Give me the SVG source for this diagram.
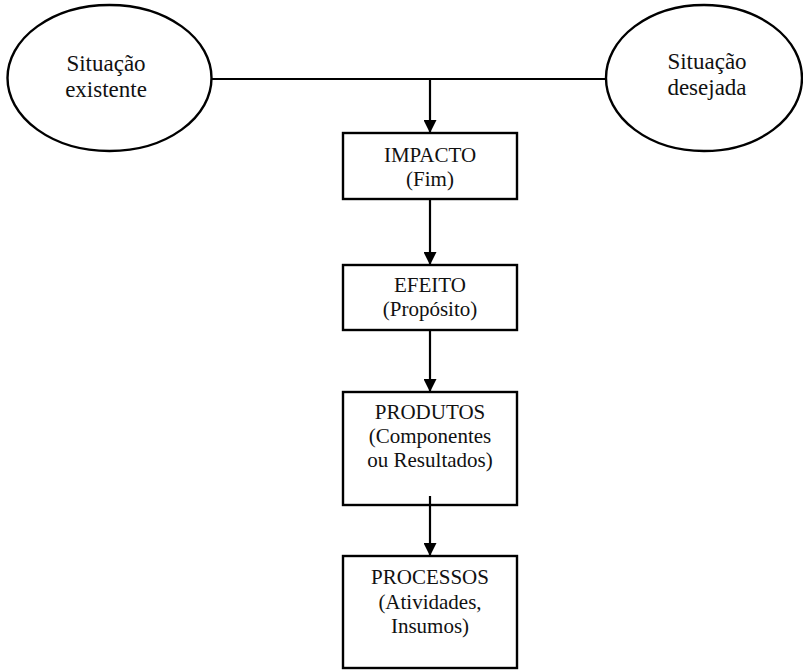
<svg xmlns="http://www.w3.org/2000/svg" width="803" height="670" viewBox="0 0 803 670">
  <style>
    .shape { fill: #ffffff; stroke: #000000; stroke-width: 2.4; }
    .link { fill: none; stroke: #000000; stroke-width: 2.2; }
    .lbl { fill: #111111; text-anchor: middle; }
    .ell { font-size: 23px; }
    .box { font-size: 21px; }
  </style>
  <defs>
    <marker id="arrow" viewBox="0 0 13 13" refX="13" refY="6.5" markerWidth="13" markerHeight="13" markerUnits="userSpaceOnUse" orient="auto">
      <path d="M0,0 L13,6.5 L0,13 Z" fill="#000000"/>
    </marker>
  </defs>
  <rect width="803" height="670" fill="#ffffff"/>

  <g id="situacao-existente" font-family="Liberation Serif">
    <ellipse class="shape" cx="109.5" cy="78" rx="102" ry="73"/>
    <text class="lbl ell" x="106" y="71">Situação</text>
    <text class="lbl ell" x="106" y="97">existente</text>
  </g>

  <g id="situacao-desejada" font-family="Liberation Serif">
    <ellipse class="shape" cx="704" cy="78" rx="98" ry="73"/>
    <text class="lbl ell" x="707" y="69">Situação</text>
    <text class="lbl ell" x="707" y="95">desejada</text>
  </g>

  <g id="impacto" font-family="Liberation Serif">
    <rect class="shape" x="343" y="133" width="174" height="66"/>
    <text class="lbl box" x="430" y="162">IMPACTO</text>
    <text class="lbl box" x="430" y="186">(Fim)</text>
  </g>

  <g id="efeito" font-family="Liberation Serif">
    <rect class="shape" x="343" y="265" width="174" height="65"/>
    <text class="lbl box" x="430" y="292">EFEITO</text>
    <text class="lbl box" x="430" y="316">(Propósito)</text>
  </g>

  <g id="produtos" font-family="Liberation Serif">
    <rect class="shape" x="343" y="392" width="174" height="113"/>
    <text class="lbl box" x="430" y="419">PRODUTOS</text>
    <text class="lbl box" x="430" y="443">(Componentes</text>
    <text class="lbl box" x="430" y="467">ou Resultados)</text>
  </g>

  <g id="processos" font-family="Liberation Serif">
    <rect class="shape" x="343" y="556" width="174" height="112"/>
    <text class="lbl box" x="430" y="584">PROCESSOS</text>
    <text class="lbl box" x="430" y="609">(Atividades,</text>
    <text class="lbl box" x="430" y="633">Insumos)</text>
  </g>

  <g id="connectors">
    <line class="link" x1="212" y1="79" x2="605" y2="79"/>
    <line class="link" x1="430" y1="79" x2="430" y2="133" marker-end="url(#arrow)"/>
    <line class="link" x1="430" y1="199" x2="430" y2="265" marker-end="url(#arrow)"/>
    <line class="link" x1="430" y1="330" x2="430" y2="392" marker-end="url(#arrow)"/>
    <line class="link" x1="430" y1="496" x2="430" y2="556" marker-end="url(#arrow)"/>
  </g>
</svg>
